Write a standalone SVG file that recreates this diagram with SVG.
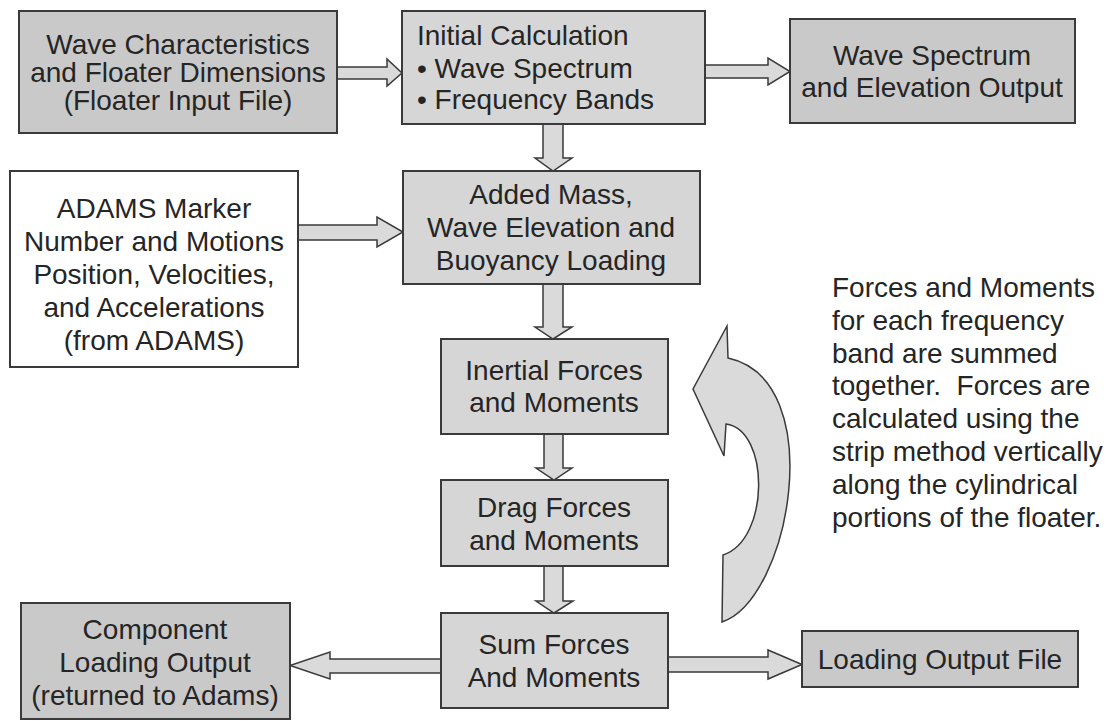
<svg xmlns="http://www.w3.org/2000/svg" width="1111" height="721" viewBox="0 0 1111 721">
<style>
.box{stroke:#3a3a3a;stroke-width:2}
.dark{fill:#c9c9c9}
.light{fill:#d6d6d6}
.white{fill:#ffffff}
.arr{fill:#dadada;stroke:#3a3a3a;stroke-width:1.5;stroke-linejoin:miter}
text{font-family:"Liberation Sans",Arial,Helvetica,sans-serif;font-size:28px;fill:#252525}
.c{text-anchor:middle}
</style>
<rect width="1111" height="721" fill="#ffffff"/>
<g id="connectors">
<path class="arr" d="M337,67 L387,67 L387,59 L402,73 L387,86 L387,79 L337,79 Z"/>
<path class="arr" d="M705,65 L768,65 L768,58 L790,71.5 L768,85 L768,78 L705,78 Z"/>
<path class="arr" d="M298,225 L377,225 L377,217 L403,232 L377,247 L377,240 L298,240 Z"/>
<path class="arr" d="M543,124 L543,158 L535,158 L553,171 L572,158 L563,158 L563,124 Z"/>
<path class="arr" d="M543,284 L543,327 L535,327 L553,339 L572,327 L563,327 L563,284 Z"/>
<path class="arr" d="M544,434 L544,468 L536,468 L554,480 L572,468 L563,468 L563,434 Z"/>
<path class="arr" d="M544,566 L544,601 L536,601 L554,613 L573,601 L563,601 L563,566 Z"/>
<path class="arr" d="M668,657 L768,657 L768,650 L802,664.5 L768,679 L768,672 L668,672 Z"/>
<path class="arr" d="M441,659 L330,659 L330,652 L290,665.5 L330,679 L330,673 L441,673 Z"/>
<path class="arr" d="M727,326 L693,389 L724,456 L726,424 C770,430 770,540 723,555 L722,622 C790,600 830,380 728,358 Z"/>
</g>
<g id="n-wave-char">
<rect class="box dark" x="19" y="11" width="318" height="122"/>
<text class="c" x="178" y="54">Wave Characteristics</text>
<text class="c" x="178" y="82">and Floater Dimensions</text>
<text class="c" x="178" y="110">(Floater Input File)</text>
</g>
<g id="n-initial">
<rect class="box light" x="402" y="11" width="303" height="113"/>
<text x="417" y="45">Initial Calculation</text>
<text x="417" y="78">• Wave Spectrum</text>
<text x="417" y="109">• Frequency Bands</text>
</g>
<g id="n-wave-out">
<rect class="box dark" x="790" y="19" width="285" height="104"/>
<text class="c" x="932" y="65">Wave Spectrum</text>
<text class="c" x="932" y="97">and Elevation Output</text>
</g>
<g id="n-adams">
<rect class="box white" x="10" y="171" width="288" height="196"/>
<text class="c" x="154" y="218">ADAMS Marker</text>
<text class="c" x="154" y="251">Number and Motions</text>
<text class="c" x="154" y="284">Position, Velocities,</text>
<text class="c" x="154" y="317">and Accelerations</text>
<text class="c" x="154" y="350">(from ADAMS)</text>
</g>
<g id="n-added-mass">
<rect class="box light" x="403" y="171" width="297" height="113"/>
<text class="c" x="551" y="204">Added Mass,</text>
<text class="c" x="551" y="237">Wave Elevation and</text>
<text class="c" x="551" y="270">Buoyancy Loading</text>
</g>
<g id="n-inertial">
<rect class="box light" x="441" y="339" width="227" height="95"/>
<text class="c" x="554" y="380">Inertial Forces</text>
<text class="c" x="554" y="412">and Moments</text>
</g>
<g id="n-drag">
<rect class="box light" x="441" y="480" width="227" height="86"/>
<text class="c" x="554" y="517">Drag Forces</text>
<text class="c" x="554" y="550">and Moments</text>
</g>
<g id="n-sum">
<rect class="box light" x="441" y="613" width="227" height="95"/>
<text class="c" x="554" y="654">Sum Forces</text>
<text class="c" x="554" y="687">And Moments</text>
</g>
<g id="n-component">
<rect class="box dark" x="21" y="603" width="269" height="116"/>
<text class="c" x="155" y="639">Component</text>
<text class="c" x="155" y="672">Loading Output</text>
<text class="c" x="155" y="705">(returned to Adams)</text>
</g>
<g id="n-loading-file">
<rect class="box dark" x="802" y="631" width="276" height="56"/>
<text class="c" x="940" y="669">Loading Output File</text>
</g>
<g id="note">
<text x="832" y="297">Forces and Moments</text>
<text x="832" y="330">for each frequency</text>
<text x="832" y="363">band are summed</text>
<text x="832" y="395">together.&#160; Forces are</text>
<text x="832" y="428">calculated using the</text>
<text x="832" y="461">strip method vertically</text>
<text x="832" y="494">along the cylindrical</text>
<text x="832" y="527">portions of the floater.</text>
</g>
</svg>
